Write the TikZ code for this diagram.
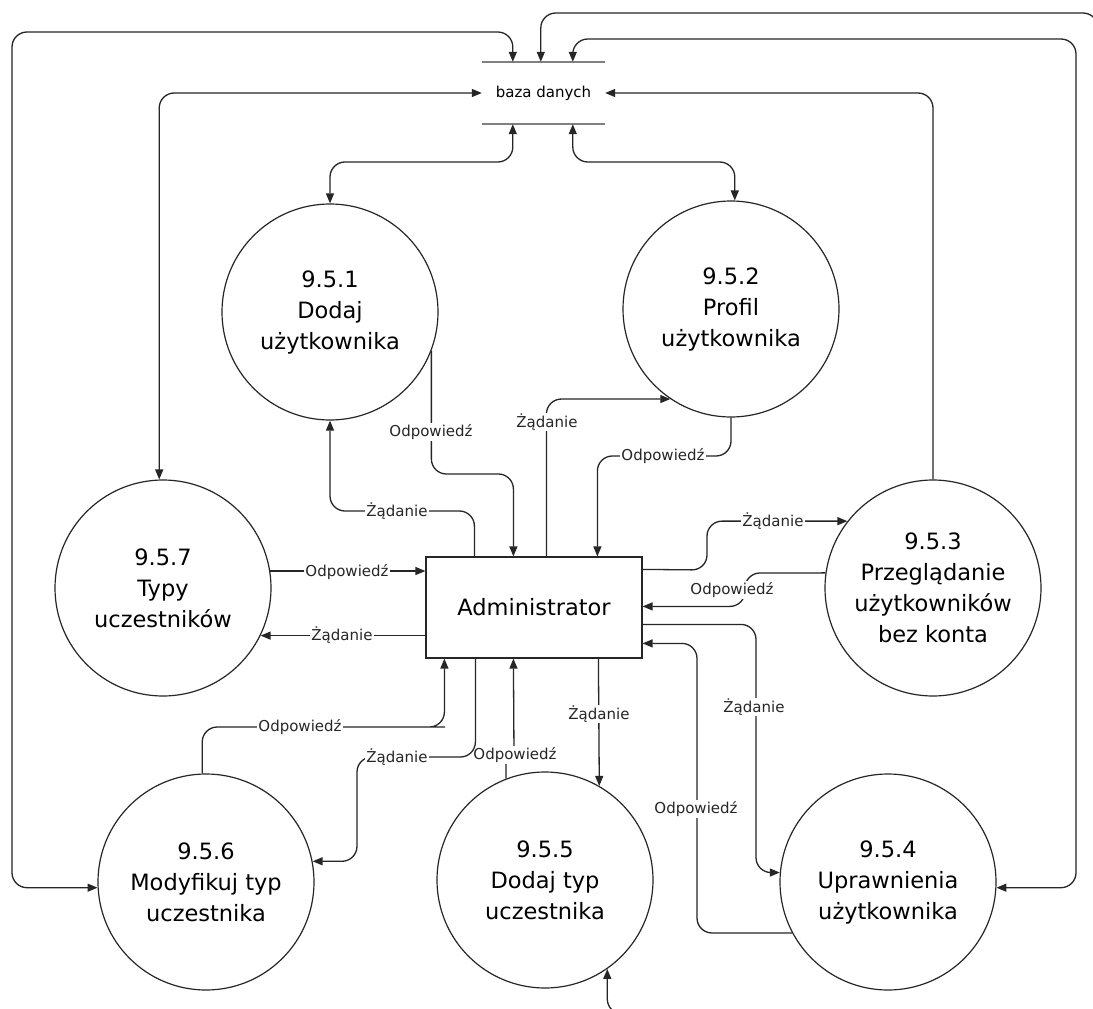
\documentclass[tikz,border=0pt]{standalone}
\usepackage{fontspec}
\setmainfont{DejaVu Sans}
\usetikzlibrary{arrows.meta,calc}
\begin{document}
\begin{tikzpicture}[x=1pt,y=-1pt,
  >={Triangle[length=10pt,width=8pt]},
  flow/.style={draw=black!85,line width=1.3pt,rounded corners=15pt},
  lbl/.style={fill=white,inner sep=1pt,text=black!85,font=\fontsize{15}{18}\selectfont},
  proc/.style={circle,draw=black!85,line width=1.2pt,minimum size=216pt,inner sep=0pt,align=center,font=\fontsize{22.5}{31}\selectfont},
  ent/.style={draw=black!85,line width=1.2pt,minimum width=216pt,minimum height=101pt,inner sep=0pt,font=\fontsize{22.5}{27}\selectfont},
  bar/.style={draw=black!50,line width=2.5pt}]
\useasboundingbox (0,0) rectangle (1093,1009);
\fill[white] (0,0) rectangle (1093,1009);
\clip (0,0) rectangle (1093,1009);

% nodes
\node[minimum width=123pt,minimum height=62pt,inner sep=0pt,font=\fontsize{15}{18}\selectfont] (db) at (543.5,93) {baza danych};
\draw[bar] (db.north west) -- (db.north east);
\draw[bar] (db.south west) -- (db.south east);

\node[ent] (adm) at (534,607.5) {Administrator};

\node[proc] (c951) at (330,312) {9.5.1\\Dodaj\\użytkownika};
\node[proc] (c952) at (731,309) {9.5.2\\Profil\\użytkownika};
\node[proc] (c953) at (933,588) {9.5.3\\Przeglądanie\\użytkowników\\bez konta};
\node[proc] (c954) at (888,882) {9.5.4\\Uprawnienia\\użytkownika};
\node[proc] (c955) at (545,880) {9.5.5\\Dodaj typ\\uczestnika};
\node[proc] (c956) at (206,882) {9.5.6\\Modyfikuj typ\\uczestnika};
\node[proc] (c957) at (163,588) {9.5.7\\Typy\\uczestników};

\coordinate (offr) at (1098,300);
\coordinate (offb) at (660,1014);

% database connectors
\draw[flow,<->] (c956.-177) -| (12,500) |- (480,32) -| ($(db.north west)+(31,0)$);
\draw[flow,->] (offr) |- (700,13) -| ($(db.north west)+(59,0)$);
\draw[flow,<->] ($(db.north west)+(91,0)$) |- (1000,39) -| (1076,600) |- (c954.-3);
\draw[flow,<->] (c957.92) |- (db.west);
\draw[flow,<->] (c951.north) |- (420,162) -| ($(db.south west)+(31,0)$);
\draw[flow,<->] ($(db.south west)+(91,0)$) |- (650,162) -| (c952.88);
\draw[flow,->] (c953.north) |- (db.east);
\draw[flow,->] (offb) -| (c955.-55);

% 9.5.1
\draw[flow,->] (c951.-21) |- (470,474) -| ($(adm.north west)+(88,0)$);
\node[lbl] (l1) at (431,432) {Odpowiedź};
\draw[flow,->] ($(adm.north west)+(49,0)$) |- (400,511) -| (c951.south);
\node[lbl] (l2) at (397,511) {Żądanie};
% 9.5.2
\draw[flow,->] ($(adm.north west)+(121,0)$) |- (c952.-124);
\node[lbl] (l3) at (547,422) {Żądanie};
\draw[flow,->] (c952.south) |- (660,456) -| ($(adm.north west)+(172,0)$);
\node[lbl] (l4) at (663,456) {Odpowiedź};
% 9.5.3
\draw[flow,->] ($(adm.north east)+(0,13)$) -- (707,570) |- (c953.142);
\node[lbl] (l5) at (773,521) {Żądanie};
\draw[flow,->] (c953.172) -- (745,573) |- ($(adm.north east)+(0,50)$);
\node[lbl] (l6) at (732,590) {Odpowiedź};
% 9.5.4
\draw[flow,->] ($(adm.north east)+(0,68)$) -| (756,800) |- (c954.175);
\node[lbl] (l7) at (754,707) {Żądanie};
\draw[flow,->] (c954.-152) -| (697,700) |- ($(adm.north east)+(0,87)$);
\node[lbl] (l8) at (696,809) {Odpowiedź};
% 9.5.5
\draw[flow,->] ($(adm.south west)+(173,0)$) -- (c955.60);
\node[lbl] (l9) at (599,714) {Żądanie};
\draw[flow,->,rounded corners=0pt] (c955.111) -- (506,755) -- (514,755) -- ($(adm.south west)+(88,0)$);
\node[lbl] (l10) at (515,755) {Odpowiedź};
% 9.5.6
\draw[flow,->] (c956.92) |- (430,727) -| ($(adm.south west)+(19,0)$);
\node[lbl] (l11) at (300,727) {Odpowiedź};
\draw[flow,->] ($(adm.south west)+(50,0)$) |- (400,757) -| (357,800) |- (c956.11);
\node[lbl] (l12) at (397,757) {Żądanie};
% 9.5.7
\draw[flow,->] (c957.9) -- (c957.9 -| adm.west);
\node[lbl] (l13) at (347,572) {Odpowiedź};
\draw[flow,->] (c957.-26 -| adm.west) -- (c957.-26);
\node[lbl] (l14) at (342,635) {Żądanie};
\end{tikzpicture}
\end{document}
